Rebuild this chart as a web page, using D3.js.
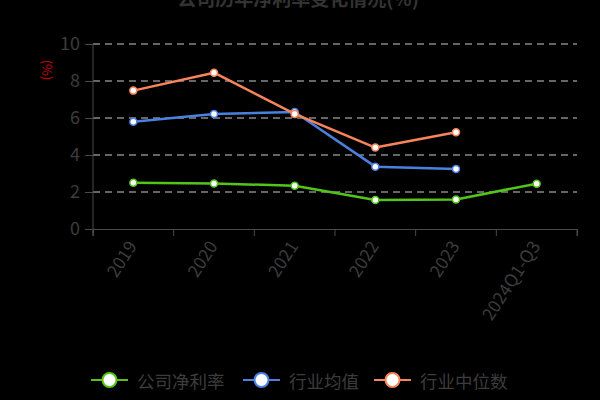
<!DOCTYPE html>
<html><head><meta charset="utf-8">
<script src="https://cdn.jsdelivr.net/npm/d3@7/dist/d3.min.js"></script>
<style>html,body{margin:0;padding:0;background:#000;}svg{display:block;}</style>
</head><body>
<svg id="c" width="600" height="400"></svg>
<script>
const categories = ["2019","2020","2021","2022","2023","2024Q1-Q3"];
const companyNet = [2.50, 2.46, 2.34, 1.57, 1.60, 2.45];
const industryAvg = [5.80, 6.22, 6.32, 3.37, 3.24, null];
const industryMedian = [7.48, 8.45, 6.22, 4.40, 5.23, null];
const yTicks = [0,2,4,6,8,10];
const seriesNames = ["公司净利率","行业均值","行业中位数"];
const seriesColors = ["#52c41a","#4a80e0","#f7845a"];
const title = "公司历年净利率变化情况(%)";

const font = "'Noto Sans CJK SC','Noto Sans',sans-serif";
const svg = d3.select("#c");
const W = 600, H = 400;
const m = {left:93, right:23, top:44, bottom:171};

const x = d3.scaleBand().domain(categories).range([m.left, W - m.right]);
const y = d3.scaleLinear().domain([0,10]).range([H - m.bottom, m.top]);

// title (partly above the top edge, as in the reference)
svg.append("text").attr("x", 298).attr("y", 6).attr("text-anchor","middle")
  .attr("font-family", font).attr("font-size", 19).attr("font-weight","bold")
  .attr("fill","#333333").text(title);

// grid
svg.append("g").selectAll("line").data(yTicks.filter(d=>d>0)).join("line")
  .attr("x1", m.left).attr("x2", W - m.right)
  .attr("y1", d=>y(d)).attr("y2", d=>y(d))
  .attr("stroke","#cccccc").attr("stroke-width",1.2).attr("stroke-dasharray","7,5");

// y axis
const ya = svg.append("g").attr("transform",`translate(${m.left},0)`)
  .call(d3.axisLeft(y).tickValues(yTicks).tickSize(8).tickPadding(5));
ya.select(".domain").attr("stroke","#4a4a4a").attr("d", `M0,${y(10)}V${y(0)+6}`);
ya.selectAll(".tick line").attr("stroke","#4a4a4a");
ya.selectAll("text").attr("font-family", font).attr("font-size", 18).attr("fill","#3c3c3c");

// y unit
svg.append("text").attr("transform","translate(47,70) rotate(90)")
  .attr("text-anchor","middle").attr("dominant-baseline","central")
  .attr("font-family", font).attr("font-size", 13).attr("fill","#cc0000").text("(%)");

// x axis
const xa = svg.append("g").attr("transform",`translate(0,${y(0)})`)
  .call(d3.axisBottom(x).tickSize(7).tickSizeOuter(7).tickFormat(""));
xa.select(".domain").attr("stroke","#4a4a4a");
xa.selectAll(".tick line").attr("stroke","#4a4a4a").attr("transform", `translate(${-x.bandwidth()/2},0)`);
svg.append("line").attr("x1", W-m.right).attr("x2", W-m.right).attr("y1", y(0)).attr("y2", y(0)+7).attr("stroke","#4a4a4a");
svg.append("g").selectAll("text").data(categories).join("text")
  .attr("transform", d=>`translate(${x(d)+x.bandwidth()/2-2},${y(0)+13}) rotate(-57)`)
  .attr("text-anchor","end").attr("dominant-baseline","central")
  .attr("font-family", font).attr("font-size", 17.5).attr("fill","#3c3c3c").text(d=>d);

// series
const data = [companyNet, industryAvg, industryMedian];
const cx = (i)=> x(categories[i]) + x.bandwidth()/2;
const line = d3.line().defined(d=>d.v!=null).x(d=>cx(d.i)).y(d=>y(d.v));
data.forEach((arr, s) => {
  const pts = arr.map((v,i)=>({v,i}));
  svg.append("path").datum(pts).attr("d", line).attr("fill","none")
    .attr("stroke", seriesColors[s]).attr("stroke-width", 2.5).attr("stroke-linejoin","round");
  svg.append("g").selectAll("circle").data(pts.filter(d=>d.v!=null)).join("circle")
    .attr("cx", d=>cx(d.i)).attr("cy", d=>y(d.v)).attr("r", 3.5)
    .attr("fill","#fff").attr("stroke", seriesColors[s]).attr("stroke-width", 1.5);
});

// legend
const legX = [91, 243, 374];
const legY = 380;
seriesNames.forEach((n, s) => {
  const g = svg.append("g");
  g.append("line").attr("x1", legX[s]).attr("x2", legX[s]+37).attr("y1", legY).attr("y2", legY)
    .attr("stroke", seriesColors[s]).attr("stroke-width", 2);
  g.append("circle").attr("cx", legX[s]+18.5).attr("cy", legY).attr("r", 7)
    .attr("fill","#fff").attr("stroke", seriesColors[s]).attr("stroke-width", 2);
  g.append("text").attr("x", legX[s]+46).attr("y", legY).attr("dominant-baseline","central")
    .attr("font-family", font).attr("font-size", 17.5).attr("fill","#3c3c3c").text(n);
});
</script>
</body></html>
